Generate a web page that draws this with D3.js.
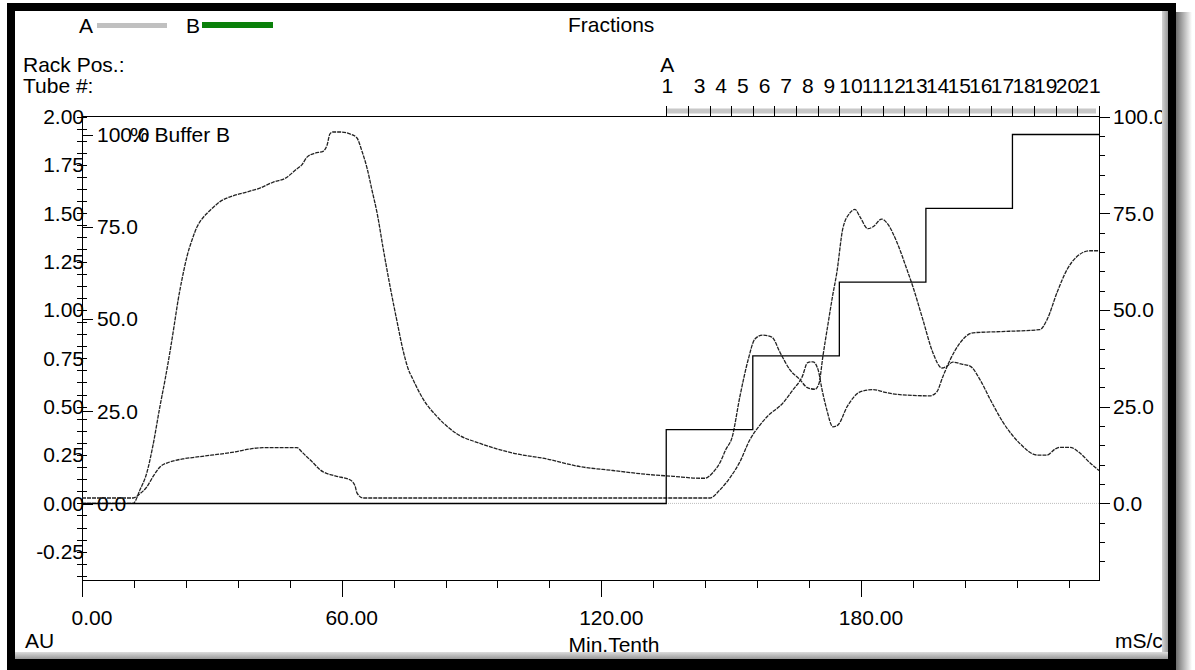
<!DOCTYPE html>
<meta charset="utf-8">
<style>
  body {
    margin: 0;
    background: #fff;
  }

  svg text {
    font-family: "Liberation Sans", Arial, sans-serif;
    font-size: 21px;
    fill: #000;
  }

  .tick-line {
    stroke: #000;
    stroke-width: 1;
    shape-rendering: crispEdges;
  }
</style>

<body>
  <svg width="1195" height="670"></svg>
</body>

<script src="https://d3js.org/d3.v7.min.js"></script>
<script>
  // UV trace (AU) against time (Min.Tenth)
  var uvTime = [0, 11.8, 13.4, 15.0, 16.4, 18.0, 19.2, 20.3, 21.3, 22.2,
    23.3, 24.3, 25.4, 26.6, 27.7, 28.9, 30.3, 31.9, 34.9, 38.1,
    41.1, 44.1, 46.9, 49.7, 50.8, 52.0, 53.8, 55.7, 56.6, 57.3,
    58.0, 59.6, 61.9, 63.5, 64.7, 65.9, 67.0, 68.2, 69.5, 71.2,
    72.8, 74.2, 75.3, 76.5, 78.8, 82.0, 86.6, 92.0, 99.6, 107.4,
    115.1, 122.7, 130.5, 136.6, 142.8, 143.9, 145.8, 147.4, 148.8, 150.2,
    152.0, 153.9, 155.5, 157.3, 159.4, 161.3, 163.6, 165.9, 167.5, 169.4,
    170.3, 171.2, 172.4, 173.5, 174.4, 175.8, 177.4, 178.6, 179.8, 181.6,
    182.8, 184.8, 186.0, 188.3, 190.6, 192.0, 194.3, 196.6, 198.7, 199.9,
    201.2, 203.3, 205.2, 207.5, 209.8, 212.8, 216.7, 220.7, 223.0, 224.8,
    226.0, 228.3, 230.6, 232.9, 235.0];
  var uvAU = [0.00, 0.00, 0.07, 0.16, 0.30, 0.50, 0.64, 0.78, 0.92, 1.05,
    1.18, 1.28, 1.36, 1.43, 1.47, 1.50, 1.53, 1.56, 1.59, 1.61,
    1.63, 1.66, 1.68, 1.73, 1.75, 1.79, 1.81, 1.82, 1.85, 1.91,
    1.92, 1.92, 1.91, 1.89, 1.82, 1.73, 1.62, 1.50, 1.33, 1.12,
    0.94, 0.79, 0.70, 0.64, 0.54, 0.45, 0.36, 0.31, 0.26, 0.23,
    0.19, 0.17, 0.15, 0.14, 0.13, 0.13, 0.16, 0.21, 0.28, 0.34,
    0.55, 0.74, 0.85, 0.87, 0.86, 0.78, 0.69, 0.64, 0.60, 0.59,
    0.62, 0.76, 0.93, 1.08, 1.19, 1.42, 1.50, 1.52, 1.48, 1.42,
    1.43, 1.47, 1.45, 1.35, 1.21, 1.12, 0.95, 0.78, 0.70, 0.71,
    0.73, 0.72, 0.71, 0.64, 0.54, 0.42, 0.31, 0.25, 0.25, 0.28,
    0.29, 0.29, 0.26, 0.21, 0.17];

  // conductivity trace (mS/cm)
  var condTime = [0, 11.8, 13.4, 15.0, 16.4, 18.0, 20.3, 23.3, 26.6, 34.2,
    41.8, 49.7, 50.8, 52.0, 53.4, 55.0, 58.5, 61.9, 63.1, 63.5,
    64.9, 145.1, 147.4, 149.7, 152.0, 154.3, 156.7, 158.3, 162.0, 164.3,
    166.4, 167.7, 168.9, 170.1, 171.0, 172.1, 173.5, 174.7, 176.8, 179.8,
    182.8, 186.0, 189.0, 195.9, 197.5, 198.9, 200.6, 202.9, 205.9, 212.1,
    221.3, 223.0, 225.3, 227.6, 229.9, 232.9, 235.0];
  var condMS = [1.4, 1.4, 2.5, 4.3, 6.9, 9.4, 10.7, 11.5, 12.0, 13.1,
    14.4, 14.4, 13.3, 12.0, 10.5, 8.7, 7.1, 6.1, 4.5, 2.8,
    1.4, 1.4, 3.5, 6.6, 10.7, 16.4, 20.3, 22.4, 26.0, 29.4,
    32.7, 36.4, 36.6, 34.5, 29.4, 24.2, 19.8, 20.3, 25.0, 28.8,
    29.4, 28.6, 28.1, 27.8, 28.8, 32.7, 37.1, 41.5, 44.1, 44.4,
    44.9, 47.5, 54.5, 60.4, 63.8, 65.3, 65.3];

  // % Buffer B step gradient
  var bTime = [0, 135, 155, 175, 195, 215, 235];
  var bPercent = [0, 20, 40, 60, 80, 100, 100];

  // fractions
  var fractionTicks = [135, 140, 145, 150, 155, 160, 165, 170, 175, 180, 185,
    190, 195, 200, 205, 210, 215, 220, 225, 230, 235];
  var tubeLabels = ["1", "3", "4", "5", "6", "7", "8", "9", "10", "11", "12",
    "13", "14", "15", "16", "17", "18", "19", "20", "21"];

  // axis labels
  var xMajor = [0, 60, 120, 180];
  var xLabels = ["0.00", "60.00", "120.00", "180.00"];
  var auTicks = [-0.25, 0, 0.25, 0.5, 0.75, 1.0, 1.25, 1.5, 1.75, 2.0];
  var auLabels = ["-0.25", "0.00", "0.25", "0.50", "0.75", "1.00", "1.25", "1.50", "1.75", "2.00"];
  var bTicks = [0, 25, 50, 75, 100];
  var bLabels = ["0.0", "25.0", "50.0", "75.0", "100.0"];
  var condTicks = [0, 25, 50, 75, 100];
  var condLabels = ["0.0", "25.0", "50.0", "75.0", "100.0"];

  var svg = d3.select("svg");

  var plotL = 82, plotR = 1099, plotT = 116.5, plotB = 580;

  var x = d3.scaleLinear().domain([0, 235]).range([plotL, plotR]);
  var yAU = d3.scaleLinear().domain([-0.396, 2.0]).range([plotB, plotT]);
  var yCond = d3.scaleLinear().domain([-19.8, 100]).range([plotB, plotT]);
  var yB = d3.scaleLinear().domain([-20.73, 104.88]).range([plotB, plotT]);

  var defs = svg.append("defs");
  var g1 = defs.append("linearGradient").attr("id", "shadowR");
  g1.append("stop").attr("offset", "0%").attr("stop-color", "#6e6e6e");
  g1.append("stop").attr("offset", "100%").attr("stop-color", "#ffffff");
  var g2 = defs.append("linearGradient").attr("id", "bevelR");
  g2.append("stop").attr("offset", "0%").attr("stop-color", "#d4d4d4");
  g2.append("stop").attr("offset", "100%").attr("stop-color", "#999");
  var g3 = defs.append("linearGradient").attr("id", "bevelB")
    .attr("x1", 0).attr("y1", 0).attr("x2", 0).attr("y2", 1);
  g3.append("stop").attr("offset", "0%").attr("stop-color", "#dcdcdc");
  g3.append("stop").attr("offset", "100%").attr("stop-color", "#999");

  svg.append("rect").attr("width", 1195).attr("height", 670).attr("fill", "#fff");

  // header: legend, title, fraction rows
  svg.append("text").attr("x", 79).attr("y", 33).text("A");
  svg.append("rect").attr("x", 97).attr("y", 23).attr("width", 70).attr("height", 5).attr("fill", "#c0c0c0");
  svg.append("text").attr("x", 186).attr("y", 33).text("B");
  svg.append("rect").attr("x", 202).attr("y", 22).attr("width", 71).attr("height", 6).attr("fill", "#0a800a");
  svg.append("text").attr("x", 568).attr("y", 32).text("Fractions");
  svg.append("text").attr("x", 23).attr("y", 72).text("Rack Pos.:");
  svg.append("text").attr("x", 23).attr("y", 93).text("Tube #:");
  svg.append("text").attr("x", x(fractionTicks[0]) - 6).attr("y", 72).text("A");

  // fraction band + ticks
  svg.append("line")
    .attr("x1", x(fractionTicks[0])).attr("x2", x(fractionTicks[fractionTicks.length - 1]) - 3)
    .attr("y1", 111).attr("y2", 111)
    .attr("stroke", "#c8c8c8").attr("stroke-width", 5);
  svg.append("g").selectAll("line")
    .data(fractionTicks)
    .enter().append("line")
    .attr("class", "tick-line")
    .attr("x1", function(d) { return Math.round(x(d)) + 0.5; })
    .attr("x2", function(d) { return Math.round(x(d)) + 0.5; })
    .attr("y1", 106).attr("y2", plotT);

  svg.append("g").selectAll("text")
    .data(tubeLabels)
    .enter().append("text")
    .attr("text-anchor", "middle")
    .attr("x", function(d) {
      var n = +d;
      if (n === 1) return x(fractionTicks[0]) + 1;
      return x(fractionTicks[n - 1] - 2.3);
    })
    .attr("y", 93)
    .text(function(d) { return d; });

  // zero line
  svg.append("line")
    .attr("x1", plotL).attr("x2", plotR)
    .attr("y1", yAU(0)).attr("y2", yAU(0))
    .attr("stroke", "#bdbdbd").attr("stroke-dasharray", "1,1");

  // frame lines of the plot
  svg.append("line").attr("class", "tick-line")
    .attr("x1", plotL).attr("x2", plotR + 1).attr("y1", plotT).attr("y2", plotT);
  svg.append("line").attr("class", "tick-line")
    .attr("x1", plotL).attr("x2", plotR + 1).attr("y1", plotB + 0.5).attr("y2", plotB + 0.5);
  svg.append("line").attr("class", "tick-line")
    .attr("x1", plotL + 0.5).attr("x2", plotL + 0.5).attr("y1", plotT).attr("y2", plotB + 17);
  svg.append("line").attr("class", "tick-line")
    .attr("x1", plotR + 0.5).attr("x2", plotR + 0.5).attr("y1", plotT).attr("y2", plotB);

  // left AU axis ticks
  svg.append("g").selectAll("line")
    .data(d3.range(-0.375, 2.0001, 0.0625))
    .enter().append("line")
    .attr("class", "tick-line")
    .attr("x1", plotL - 5).attr("x2", plotL + 5)
    .attr("y1", function(d) { return Math.round(yAU(d)) + 0.5; })
    .attr("y2", function(d) { return Math.round(yAU(d)) + 0.5; });
  svg.append("g").selectAll("text")
    .data(auTicks)
    .enter().append("text")
    .attr("text-anchor", "end")
    .attr("x", plotL + 2)
    .attr("y", function(d) { return yAU(d); })
    .attr("dy", "0.35em")
    .text(function(d, i) { return auLabels[i]; });

  // inner % Buffer B axis
  svg.append("g").selectAll("line")
    .data(bTicks)
    .enter().append("line")
    .attr("class", "tick-line")
    .attr("x1", plotL).attr("x2", plotL + 11)
    .attr("y1", function(d) { return Math.round(yB(d)) + 0.5; })
    .attr("y2", function(d) { return Math.round(yB(d)) + 0.5; });
  svg.append("g").selectAll("text")
    .data(bTicks)
    .enter().append("text")
    .attr("x", plotL + 15)
    .attr("y", function(d) { return yB(d); })
    .attr("dy", "0.35em")
    .text(function(d, i) { return bLabels[i]; });
  svg.append("text")
    .attr("x", 130).attr("y", yB(100)).attr("dy", "0.35em")
    .text("% Buffer B");

  // right conductivity axis
  svg.append("g").selectAll("line")
    .data(d3.range(-15, 100.1, 5))
    .enter().append("line")
    .attr("class", "tick-line")
    .attr("x1", plotR).attr("x2", function(d) { return d % 25 === 0 ? plotR + 11 : plotR + 6; })
    .attr("y1", function(d) { return Math.round(yCond(d)) + 0.5; })
    .attr("y2", function(d) { return Math.round(yCond(d)) + 0.5; });
  svg.append("g").selectAll("text")
    .data(condTicks)
    .enter().append("text")
    .attr("x", plotR + 14)
    .attr("y", function(d) { return yCond(d); })
    .attr("dy", "0.35em")
    .text(function(d, i) { return condLabels[i]; });

  // bottom time axis
  svg.append("g").selectAll("line")
    .data(d3.range(0, 235, 12))
    .enter().append("line")
    .attr("class", "tick-line")
    .attr("x1", function(d) { return Math.round(x(d)) + 0.5; })
    .attr("x2", function(d) { return Math.round(x(d)) + 0.5; })
    .attr("y1", plotB)
    .attr("y2", function(d) { return d % 60 === 0 ? plotB + 17 : plotB + 8; });
  svg.append("g").selectAll("text")
    .data(xMajor)
    .enter().append("text")
    .attr("text-anchor", "middle")
    .attr("x", function(d) { return x(d) + 10; })
    .attr("y", 625)
    .text(function(d, i) { return xLabels[i]; });
  svg.append("text").attr("x", 614).attr("y", 652).attr("text-anchor", "middle").text("Min.Tenth");
  svg.append("text").attr("x", 25).attr("y", 648).text("AU");
  svg.append("text").attr("x", 1115).attr("y", 648).text("mS/cm");

  // traces
  var uvData = uvTime.map(function(t, i) { return { t: t, v: uvAU[i] }; });
  var condData = condTime.map(function(t, i) { return { t: t, v: condMS[i] }; });
  var bData = bTime.map(function(t, i) { return { t: t, v: bPercent[i] }; });

  svg.append("path")
    .datum(condData)
    .attr("fill", "none")
    .attr("stroke", "#222")
    .attr("stroke-width", 1.3)
    .attr("stroke-dasharray", "4,1")
    .attr("d", d3.line()
      .x(function(d) { return x(d.t); })
      .y(function(d) { return yCond(d.v); })
      .curve(d3.curveMonotoneX));

  svg.append("path")
    .datum(uvData)
    .attr("fill", "none")
    .attr("stroke", "#222")
    .attr("stroke-width", 1.3)
    .attr("stroke-dasharray", "4,1")
    .attr("d", d3.line()
      .x(function(d) { return x(d.t); })
      .y(function(d) { return yAU(d.v); })
      .curve(d3.curveMonotoneX));

  svg.append("path")
    .datum(bData)
    .attr("fill", "none")
    .attr("stroke", "#000")
    .attr("stroke-width", 1.3)
    .attr("d", d3.line()
      .x(function(d) { return x(d.t); })
      .y(function(d) { return yB(d.v); })
      .curve(d3.curveStepAfter));

  // window frame drawn on top
  svg.append("rect").attr("x", 1176).attr("y", 12).attr("width", 16).attr("height", 658).attr("fill", "url(#shadowR)");
  svg.append("rect").attr("x", 1162).attr("y", 11).attr("width", 6).attr("height", 648).attr("fill", "url(#bevelR)");
  svg.append("rect").attr("x", 15).attr("y", 652).attr("width", 1153).attr("height", 7).attr("fill", "url(#bevelB)");
  svg.append("rect")
    .attr("x", 11).attr("y", 7).attr("width", 1161).attr("height", 656)
    .attr("fill", "none").attr("stroke", "#000").attr("stroke-width", 8);
  svg.append("rect").attr("x", 7).attr("y", 659).attr("width", 1169).attr("height", 11).attr("fill", "#000");
</script>
